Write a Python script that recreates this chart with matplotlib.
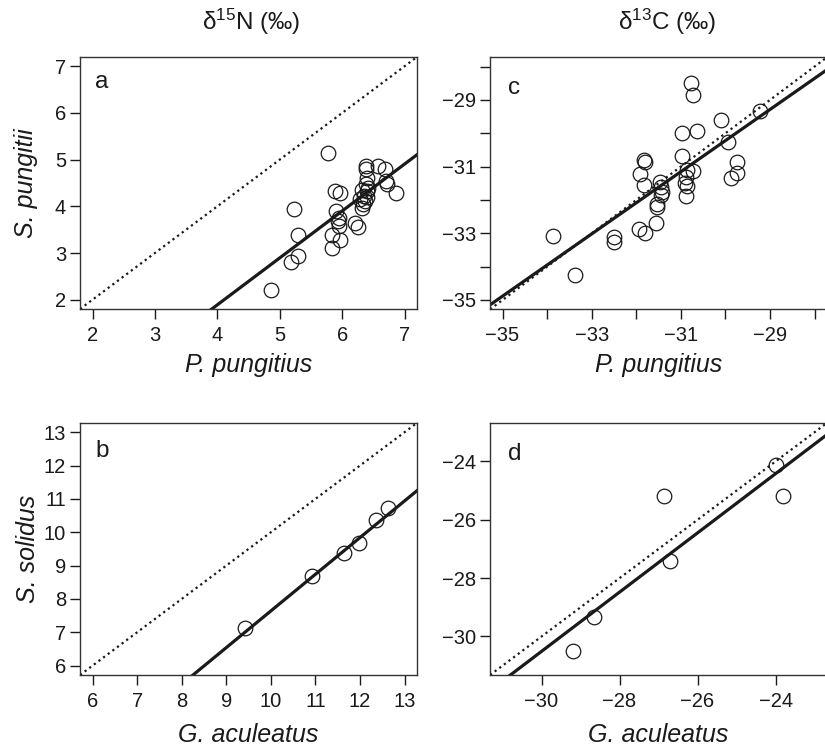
import numpy as np
import matplotlib
matplotlib.use("Agg")
import matplotlib.pyplot as plt

plt.rcParams['font.family'] = ['Liberation Sans', 'DejaVu Sans']
plt.rcParams['mathtext.fontset'] = 'custom'
plt.rcParams['mathtext.rm'] = 'Liberation Sans'

INK = '#1a1a1a'

# ---- Panel a: d15N, S. pungitii vs P. pungitius ----
a_x = [5.77, 5.23, 5.29, 5.29, 5.18, 4.86, 5.88, 5.96, 5.90, 5.95, 5.93, 5.95,
       5.83, 5.97, 5.84, 6.20, 6.26, 6.38, 6.39, 6.58, 6.69, 6.40, 6.39, 6.71,
       6.72, 6.87, 6.32, 6.40, 6.35, 6.40, 6.29, 6.37, 6.34, 6.32, 6.42]
a_y = [5.14, 3.95, 3.38, 2.94, 2.81, 2.21, 4.32, 4.29, 3.90, 3.76, 3.69, 3.58,
       3.38, 3.27, 3.10, 3.64, 3.56, 4.87, 4.79, 4.86, 4.79, 4.61, 4.47, 4.54,
       4.47, 4.29, 4.36, 4.33, 4.22, 4.19, 4.15, 4.11, 4.04, 3.97, 4.40]
a_fit = (1.005, -2.13)          # slope, intercept
a_lim = (1.8, 7.2)
a_ticks = [2, 3, 4, 5, 6, 7]
a_ticklabels = ['2', '3', '4', '5', '6', '7']

# ---- Panel c: d13C, S. pungitii vs P. pungitius ----
c_x = [-30.78, -30.72, -29.22, -30.09, -30.63, -30.98, -29.94, -30.98, -29.75,
       -29.75, -29.88, -31.82, -31.81, -31.91, -31.83, -31.47, -31.45, -31.43,
       -31.54, -31.54, -31.56, -31.94, -31.81, -32.51, -32.51, -33.86, -33.38,
       -30.87, -30.73, -30.89, -30.91, -30.87, -30.89, -31.45]
c_y = [-28.48, -28.84, -29.32, -29.60, -29.93, -30.00, -30.25, -30.69, -30.86,
       -31.19, -31.34, -30.79, -30.87, -31.22, -31.56, -31.45, -31.60, -31.77,
       -32.11, -32.20, -32.70, -32.87, -32.99, -33.10, -33.27, -33.07, -34.26,
       -31.10, -31.14, -31.32, -31.48, -31.58, -31.87, -31.84]
c_fit = (0.933, -2.23)
c_lim = (-35.28, -27.72)
c_ticks = [-35, -34, -33, -32, -31, -30, -29, -28]
c_ticklabels = ['−35', '', '−33', '', '−31', '', '−29', '']

# ---- Panel b: d15N, S. solidus vs G. aculeatus ----
b_x = [9.43, 10.93, 11.65, 11.98, 12.37, 12.63]
b_y = [7.12, 8.68, 9.37, 9.69, 10.36, 10.73]
b_fit = (1.10, -3.36)
b_lim = (5.72, 13.28)
b_ticks = [6, 7, 8, 9, 10, 11, 12, 13]
b_ticklabels = ['6', '7', '8', '9', '10', '11', '12', '13']

# ---- Panel d: d13C, S. solidus vs G. aculeatus ----
d_x = [-26.85, -23.80, -23.98, -26.70, -28.66, -29.19]
d_y = [-25.17, -25.17, -24.11, -27.40, -29.32, -30.49]
d_fit = (1.015, -0.06)
d_lim = (-31.32, -22.68)
d_ticks = [-30, -28, -26, -24]
d_ticklabels = ['−30', '−28', '−26', '−24']

fig = plt.figure(figsize=(8.25, 7.49), dpi=100)

W, H = 0.4085, 0.3366
ax_a = fig.add_axes([0.097, 0.5874, W, H])
ax_c = fig.add_axes([0.594, 0.5870, W, H])
ax_b = fig.add_axes([0.097, 0.0988, W, H])
ax_d = fig.add_axes([0.594, 0.0988, W, H])


def draw(ax, x, y, fit, lim, ticks, ticklabels, letter, lpos):
    ax.set_xlim(lim)
    ax.set_ylim(lim)
    # 1:1 reference line
    ax.plot(lim, lim, linestyle=(0, (1, 1.6)), color=INK, lw=1.6,
            solid_capstyle='butt')
    # fitted line
    slope, icpt = fit
    xs = np.array(lim)
    ax.plot(xs, slope * xs + icpt, color=INK, lw=2.3)
    ax.plot(x, y, linestyle='none', marker='o', ms=10.5, mfc='none',
            mec=INK, mew=0.9)
    ax.set_xticks(ticks, ticklabels)
    ax.set_yticks(ticks, ticklabels)
    ax.tick_params(direction='out', length=7.5, width=1.0, colors=INK,
                   labelsize=14.5, pad=4.5)
    ax.tick_params(axis='y', pad=2.5)
    for s in ax.spines.values():
        s.set_linewidth(1.0)
        s.set_color('#333333')
    ax.text(lpos[0], lpos[1], letter, transform=ax.transAxes,
            fontsize=17.5, ha='left', va='baseline', color=INK)


draw(ax_a, a_x, a_y, a_fit, a_lim, a_ticks, a_ticklabels, 'a', (0.045, 0.876))
draw(ax_c, c_x, c_y, c_fit, c_lim, c_ticks, c_ticklabels, 'c', (0.053, 0.856))
draw(ax_b, b_x, b_y, b_fit, b_lim, b_ticks, b_ticklabels, 'b', (0.047, 0.863))
draw(ax_d, d_x, d_y, d_fit, d_lim, d_ticks, d_ticklabels, 'd', (0.053, 0.851))

lab = dict(fontsize=18, style='italic', color=INK)
ax_a.set_xlabel('P. pungitius', labelpad=6, **lab)
ax_c.set_xlabel('P. pungitius', labelpad=6, **lab)
ax_b.set_xlabel('G. aculeatus', labelpad=9, **lab)
ax_d.set_xlabel('G. aculeatus', labelpad=9, **lab)
ax_a.set_ylabel('S. pungitii', labelpad=12, **lab)
ax_b.set_ylabel('S. solidus', labelpad=3, **lab)

fig.text(251 / 825, 1 - 22 / 749, r'$\mathregular{\delta^{15}}$N (‰)',
         fontsize=17.5, ha='center', va='center', color=INK)
fig.text(667 / 825, 1 - 22 / 749, r'$\mathregular{\delta^{13}}$C (‰)',
         fontsize=17.5, ha='center', va='center', color=INK)

fig.savefig('out.png', dpi=100)
